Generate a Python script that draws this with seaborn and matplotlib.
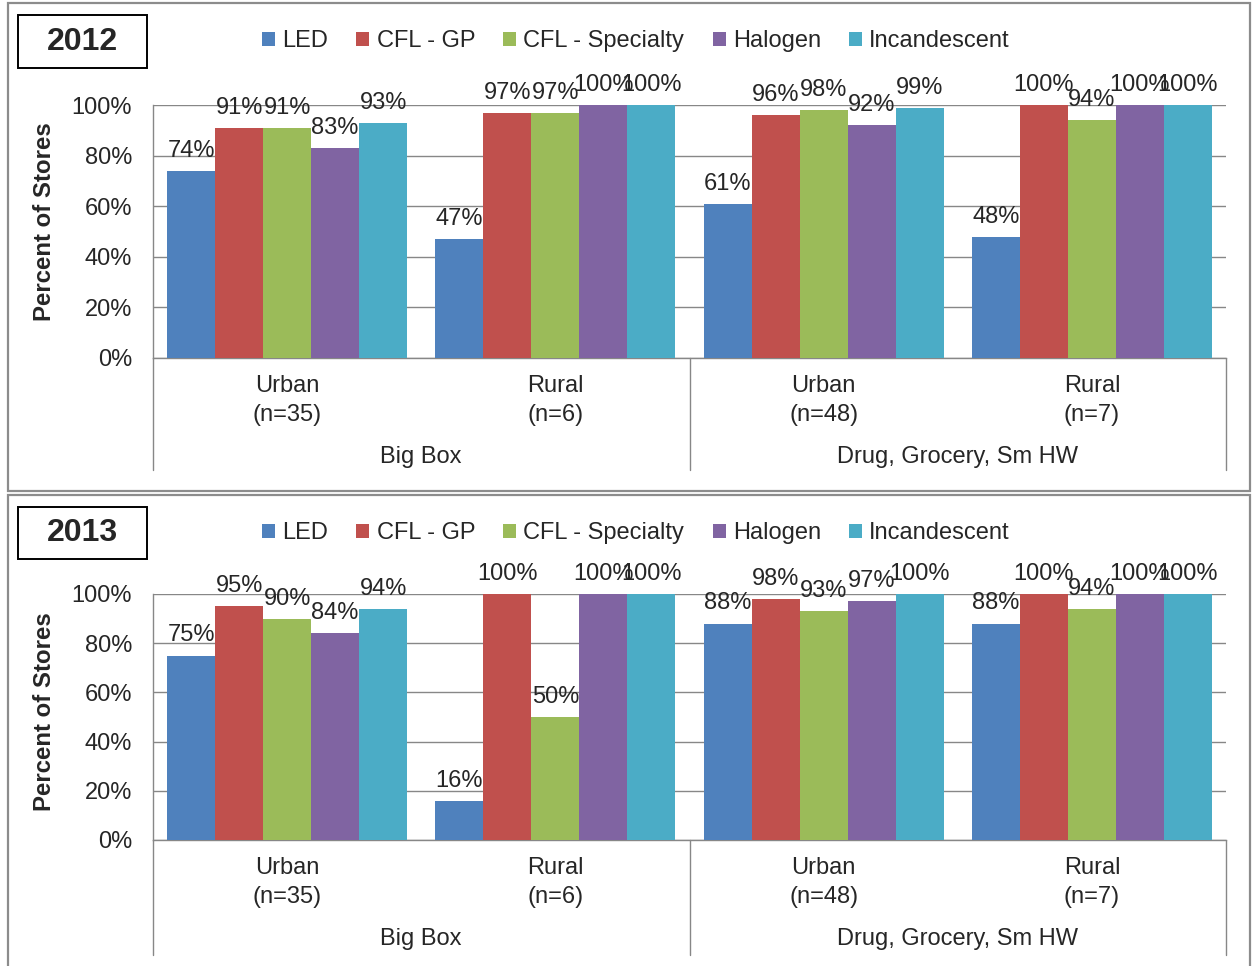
import matplotlib
matplotlib.use("Agg")
import matplotlib.pyplot as plt
from matplotlib.patches import Rectangle
from matplotlib.lines import Line2D
import seaborn as sns
import pandas as pd

# ---- data -------------------------------------------------------------
types = ["LED", "CFL - GP", "CFL - Specialty", "Halogen", "Incandescent"]
colors = ["#4F81BD", "#C0504D", "#9BBB59", "#8064A2", "#4BACC6"]
locations = ["Urban\n(n=35)", "Rural\n(n=6)", "Urban\n(n=48)", "Rural\n(n=7)"]
channels = ["Big Box", "Drug, Grocery, Sm HW"]
years = ["2012", "2013"]
y_ticks = [0, 20, 40, 60, 80, 100]

led_2012 = [74, 47, 61, 48]
cfl_gp_2012 = [91, 97, 96, 100]
cfl_spec_2012 = [91, 97, 98, 94]
halogen_2012 = [83, 100, 92, 100]
incand_2012 = [93, 100, 99, 100]

led_2013 = [75, 16, 88, 88]
cfl_gp_2013 = [95, 100, 98, 100]
cfl_spec_2013 = [90, 50, 93, 94]
halogen_2013 = [84, 100, 97, 100]
incand_2013 = [94, 100, 100, 100]

series = {
    "2012": [led_2012, cfl_gp_2012, cfl_spec_2012, halogen_2012, incand_2012],
    "2013": [led_2013, cfl_gp_2013, cfl_spec_2013, halogen_2013, incand_2013],
}

# ---- style ------------------------------------------------------------
sns.set_style("white")
plt.rcParams["font.family"] = ["Liberation Sans", "DejaVu Sans"]

W, H = 1252, 966
fig = plt.figure(figsize=(W / 100, H / 100), dpi=100)
GRID = "#878787"
FS = 17


def fx(px):
    return px / W


def fy(py):
    return 1 - py / H


# pixel layout for each panel
panels = [
    dict(border=(8, 3, 1250, 491), ybox=(15, 68), legend_y=41, ax_top=105, ax_bot=358,
         group_y=457, sep_bot=470, ylabel_y=222),
    dict(border=(8, 495, 1250, 972), ybox=(507, 559), legend_y=533, ax_top=594, ax_bot=840,
         group_y=939, sep_bot=955, ylabel_y=712),
]

AX_L, AX_R = 153, 1226

for year, spec in zip(years, panels):
    # panel frame
    x0, y0, x1, y1 = spec["border"]
    fig.patches.append(Rectangle((fx(x0), fy(y1)), fx(x1 - x0), (y1 - y0) / H,
                                 transform=fig.transFigure, fill=False,
                                 edgecolor="#8c8c8c", linewidth=1.6))
    # year box
    b0, b1 = spec["ybox"]
    fig.patches.append(Rectangle((fx(18), fy(b1)), fx(129), (b1 - b0) / H,
                                 transform=fig.transFigure, fill=False,
                                 edgecolor="black", linewidth=1.4))
    fig.text(fx(82), fy((b0 + b1) / 2), year, ha="center", va="center",
             fontsize=23, fontweight="bold")

    rows = []
    for t, vals in zip(types, series[year]):
        for loc, v in zip(locations, vals):
            rows.append({"location": loc, "type": t, "pct": v})
    df = pd.DataFrame(rows)

    ax = fig.add_axes([fx(AX_L), fy(spec["ax_bot"]), fx(AX_R - AX_L),
                       (spec["ax_bot"] - spec["ax_top"]) / H])
    sns.barplot(data=df, x="location", y="pct", hue="type", order=locations,
                hue_order=types, palette=colors, saturation=1, width=0.895,
                errorbar=None, linewidth=0, legend=False, ax=ax, zorder=3)

    for cont in ax.containers:
        ax.bar_label(cont, fmt="%g%%", padding=6.5, fontsize=FS, zorder=4)

    ax.set_ylim(0, 100)
    ax.set_xlim(-0.5, 3.5)
    ax.set_yticks(y_ticks)
    ax.set_yticklabels([f"{v}%" for v in y_ticks])
    ax.yaxis.grid(True, color=GRID, linewidth=1.0, zorder=0)
    ax.set_axisbelow(True)
    for s in ["top", "right"]:
        ax.spines[s].set_visible(False)
    for s in ["left", "bottom"]:
        ax.spines[s].set_color(GRID)
        ax.spines[s].set_linewidth(1.0)
    ax.tick_params(axis="y", length=0, pad=15, labelsize=FS)
    ax.tick_params(axis="x", length=0, pad=12, labelsize=FS)
    ax.set_xticks(range(len(locations)))
    ax.set_xticklabels(locations, linespacing=1.45)
    ax.set_xlabel("")
    ax.set_ylabel("")

    # category separators below the axis
    ax_h = spec["ax_bot"] - spec["ax_top"]
    drop = -(spec["sep_bot"] - spec["ax_bot"]) / ax_h
    for xv in [-0.5, 1.5, 3.5]:
        ax.add_line(Line2D([xv, xv], [0, drop], transform=ax.get_xaxis_transform(),
                           color=GRID, linewidth=1.0, clip_on=False))
    for i, ch in enumerate(channels):
        ax.text(2 * i + 0.5, -(spec["group_y"] - spec["ax_bot"]) / ax_h, ch,
                transform=ax.get_xaxis_transform(), ha="center", va="center",
                fontsize=FS)

    fig.text(fx(45), fy(spec["ylabel_y"]), "Percent of Stores", rotation=90,
             ha="center", va="center", fontsize=17.3, fontweight="bold")

    handles = [Rectangle((0, 0), 1, 1, facecolor=c, edgecolor="none") for c in colors]
    fig.legend(handles, types, loc="center", ncol=5, frameon=False,
               bbox_to_anchor=(fx(636), fy(spec["legend_y"])), fontsize=FS,
               handlelength=0.55, handleheight=0.55, handletextpad=0.3,
               columnspacing=1.2)

fig.savefig("out.png", dpi=100)
